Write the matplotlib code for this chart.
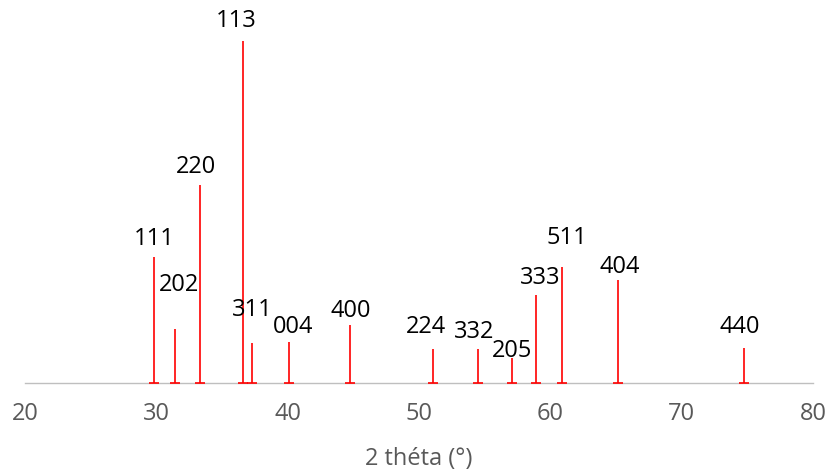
import matplotlib
matplotlib.use("Agg")
import matplotlib.pyplot as plt

# Data (2 theta positions, relative intensities, hkl labels)
two_theta = [29.8, 31.4, 33.3, 36.6, 37.3, 40.1, 44.75, 51.05, 54.5, 57.05, 58.9, 60.9, 65.15, 74.75]
intensity = [36.8, 15.8, 57.9, 100.0, 11.7, 12.1, 17.0, 9.9, 9.9, 7.2, 25.7, 34.0, 30.1, 10.1]
hkl = ["111", "202", "220", "113", "311", "004", "400", "224", "332", "205", "333", "511", "404", "440"]
xticks = [20, 30, 40, 50, 60, 70, 80]

# label offsets in pixels (dx, dy) relative to peak top (layout only)
label_offsets = [(1, 19), (4, 45), (-4, 19), (-7, 21), (0, 34), (4, 16), (1, 15),
                 (-7, 23), (-4, 18), (0, 8), (4, 18), (5, 30), (2, 14), (-4, 22)]

W, H = 829, 471
fig = plt.figure(figsize=(W / 100, H / 100), dpi=100)
left, right = 25 / W, 813 / W
bottom = (H - 383) / H
top = 1 - 6.8 / H
ax = fig.add_axes([left, bottom, right - left, top - bottom])

font = "Open Sans"
red = "#FF0000"
fs = 17

ax.vlines(two_theta, 0, intensity, color=red, lw=1.2, zorder=3)
ax.plot(two_theta, [0] * len(two_theta), linestyle="none", marker="_",
        markersize=6.5, markeredgewidth=1.2, color=red, zorder=3)

for x, y, lab, (dx, dy) in zip(two_theta, intensity, hkl, label_offsets):
    ax.annotate(lab, (x, y), xytext=(dx * 0.72, (dy - 1) * 0.72), textcoords="offset points",
                ha="center", va="center", fontsize=fs, family=font, color="black",
                annotation_clip=False)

ax.set_xlim(20, 80)
ax.set_ylim(0, 110)
ax.set_xticks(xticks)
ax.set_xticklabels([str(t) for t in xticks], family=font, fontsize=fs, color="#595959")
ax.tick_params(axis="x", length=0, pad=13.5)
ax.set_yticks([])
for s in ["top", "right", "left"]:
    ax.spines[s].set_visible(False)
ax.spines["bottom"].set_color("#BFBFBF")
ax.spines["bottom"].set_linewidth(1.0)
ax.set_xlabel("2 théta (°)", family=font, fontsize=fs, color="#595959", labelpad=15)

fig.savefig("out.png", dpi=100)
